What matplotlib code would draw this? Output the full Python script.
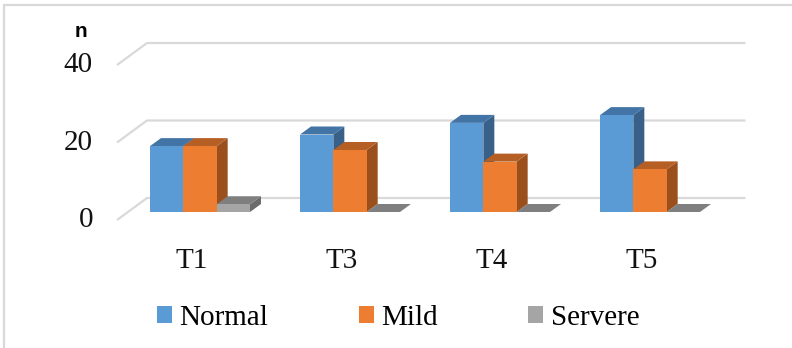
import matplotlib
matplotlib.use("Agg")
import matplotlib.pyplot as plt
from matplotlib.patches import Polygon, Patch, Rectangle

categories = ["T1", "T3", "T4", "T5"]
series = ["Normal", "Mild", "Servere"]
normal = [17, 20, 23, 25]
mild = [17, 16, 13, 11]
servere = [2, 0, 0, 0]
yticks = [0, 20, 40]

# front / top / side shades, Excel 3D column look
colors = {
    "Normal": ("#5B9BD5", "#4374A6", "#386089"),
    "Mild": ("#ED7D31", "#B65F24", "#9A4F1D"),
    "Servere": ("#A5A5A5", "#7F7F7F", "#6B6B6B"),
}

plt.rcParams["font.family"] = ["Liberation Serif", "DejaVu Serif"]

W, H = 792, 348
fig = plt.figure(figsize=(W / 100, H / 100), dpi=100)
ax = fig.add_axes([0, 0, 1, 1])
# 150 px per category, 3.875 px per unit on the front plane
ax.set_xlim(-117 / 150, (W - 117) / 150)
ax.set_ylim((220 - H) / 3.875, 220 / 3.875)
ax.axis("off")

# wall depth and bar depth in data units
DX, DY = 30 / 150, 22 / 3.875
OFFX, OFFY = 8 / 150, 8 / 3.875
BDX, BDY = 11 / 150, 8 / 3.875
bw = 1 / 4.5

grid_c = "#D9D9D9"
for v in yticks:
    ax.plot([0, DX, len(categories) + DX * 0.95], [v, v + DY, v + DY],
            color=grid_c, lw=1.6, solid_capstyle="butt", zorder=1)
    ax.text(-0.16, v, str(v), ha="right", va="center", fontsize=21, color="#111111")

ax.text(-0.24, 48.6, "n", ha="center", va="center", fontsize=15,
        fontweight="bold", family="Liberation Sans")

data = {"Normal": normal, "Mild": mild, "Servere": servere}
z = 2
for i, cat in enumerate(categories):
    for j, name in enumerate(series):
        v = data[name][i]
        front, top, side = colors[name]
        x0 = i + (1 - 3 * bw) / 2 + j * bw + OFFX
        y0 = OFFY
        ax.add_patch(Polygon([(x0 + bw, y0), (x0 + bw + BDX, y0 + BDY),
                              (x0 + bw + BDX, y0 + v + BDY), (x0 + bw, y0 + v)],
                             closed=True, facecolor=side, edgecolor="none", zorder=z))
        ax.add_patch(Polygon([(x0, y0 + v), (x0 + bw, y0 + v),
                              (x0 + bw + BDX, y0 + v + BDY), (x0 + BDX, y0 + v + BDY)],
                             closed=True, facecolor=top, edgecolor="none", zorder=z + 0.1))
        ax.bar(x0, v, width=bw, bottom=y0, align="edge", color=front,
               edgecolor="none", zorder=z + 0.2)
        z += 1
    ax.text(i + 0.5, -10.6, cat, ha="center", va="center", fontsize=21, color="#111111")

handles = [Patch(facecolor=colors[s][0], edgecolor="none") for s in series]
fig.legend(handles, series, loc="center", bbox_to_anchor=(398 / W, 1 - 318 / H),
           ncol=3, frameon=False, fontsize=21, handlelength=0.52, handleheight=0.52,
           handletextpad=0.25, columnspacing=3.1, borderpad=0, borderaxespad=0)

# chart frame (runs off the right and bottom edges)
fig.add_artist(Rectangle((4 / W, -0.2), 1.2, 1.2 - 5 / H, transform=fig.transFigure,
                         fill=False, edgecolor=grid_c, lw=1.6))

fig.savefig("out.png", dpi=100)
